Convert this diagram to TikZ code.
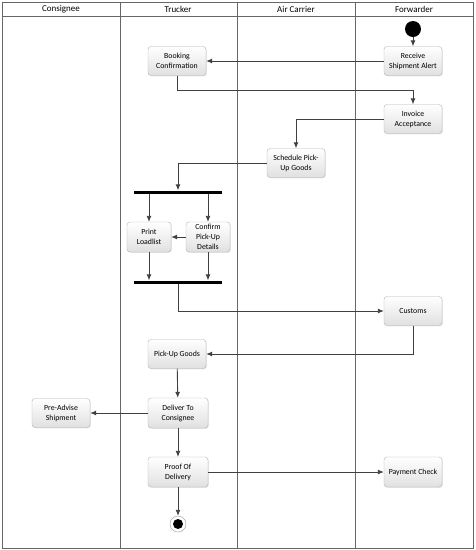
\documentclass[tikz,border=0pt]{standalone}
\usepackage{fontspec}
\setmainfont{Carlito}
\usetikzlibrary{positioning}
\usetikzlibrary{shadows}
\usetikzlibrary{arrows.meta}

\begin{document}
\begin{tikzpicture}[x=1pt,y=-1pt,
    lane/.style={draw=black!60, line width=0.9pt},
    act/.style={draw=black!30, rounded corners=3pt, top color=white, bottom color=black!12,
      minimum width=58pt, minimum height=29pt, inner sep=1pt, align=center,
      font=\fontsize{7.8}{10}\selectfont,
      drop shadow={opacity=0.2, shadow xshift=0.8pt, shadow yshift=-0.8pt}},
    flow/.style={-{Latex[length=6pt,width=5pt]}, draw=black!75, line width=0.9pt},
    syncbar/.style={fill=black, inner sep=0pt, minimum width=88pt, minimum height=3pt},
    head/.style={font=\fontsize{9}{11}\selectfont}]
        \useasboundingbox (0,0) rectangle (475,550);

        % swimlanes
        \draw[lane] (2,2) rectangle (473,548);
        \draw[lane] (2,16) -- (473,16);
        \foreach \x in {120,237,355}
          \draw[lane] (\x,2) -- (\x,548);
        \node[head] (hcons) at (61,9) {Consignee};
        \node[head] (htruck) at (178,9) {Trucker};
        \node[head] (hair) at (296,9) {Air Carrier};
        \node[head] (hfwd) at (414,9) {Forwarder};

        % activities
        \node[circle, fill=black, inner sep=0pt, minimum size=16pt] (start) at (413,29) {};
        \node[act] (alert) at (413,61) {Receive\\Shipment Alert};
        \node[act] (booking) at (177,61) {Booking\\Confirmation};
        \node[act] (invoice) at (413,119) {Invoice\\Acceptance};
        \node[act] (schedule) at (296,163) {Schedule Pick-\\Up Goods};
        \node[syncbar] (fork) at (178,192) {};
        \node[act, minimum width=44pt, minimum height=30pt] (loadlist) at (149,237) {Print\\Loadlist};
        \node[act, minimum width=44pt, minimum height=30pt] (confirm) at (208,237) {Confirm\\Pick-Up\\Details};
        \node[syncbar] (join) at (178,282) {};
        \node[act] (customs) at (413,311) {Customs};
        \node[act] (pickup) at (177,354) {Pick-Up Goods};
        \node[act, minimum width=60pt, minimum height=30pt] (deliver) at (178,413) {Deliver To\\Consignee};
        \node[act] (preadvise) at (61,413) {Pre-Advise\\Shipment};
        \node[act, minimum width=60pt, minimum height=30pt] (proof) at (178,472) {Proof Of\\Delivery};
        \node[act, minimum height=30pt] (payment) at (413,472) {Payment Check};
        \node[circle, draw=black!40, fill=white, inner sep=0pt, minimum size=16pt] (finish) at (178,524) {};
        \fill (finish.center) circle (5pt);

        % flows
        \draw[flow] (start) -- (alert);
        \draw[flow] (alert) -- (booking);
        \draw[flow] (booking.south) -- ++(0,15) -| (invoice.north);
        \draw[flow] (invoice.west) -| (schedule.north);
        \draw[flow] (schedule.west) -| (fork.north);
        \draw[flow] (loadlist.north |- fork.south) -- (loadlist.north);
        \draw[flow] (confirm.north |- fork.south) -- (confirm.north);
        \draw[flow] (confirm) -- (loadlist);
        \draw[flow] (loadlist.south) -- (loadlist.south |- join.north);
        \draw[flow] (confirm.south) -- (confirm.south |- join.north);
        \draw[flow] (join.south) |- (customs.west);
        \draw[flow] (customs.south) |- (pickup.east);
        \draw[flow] (pickup) -- (deliver);
        \draw[flow] (deliver) -- (preadvise);
        \draw[flow] (deliver) -- (proof);
        \draw[flow] (proof) -- (payment);
        \draw[flow] (proof) -- (finish);
      \end{tikzpicture}
\end{document}
